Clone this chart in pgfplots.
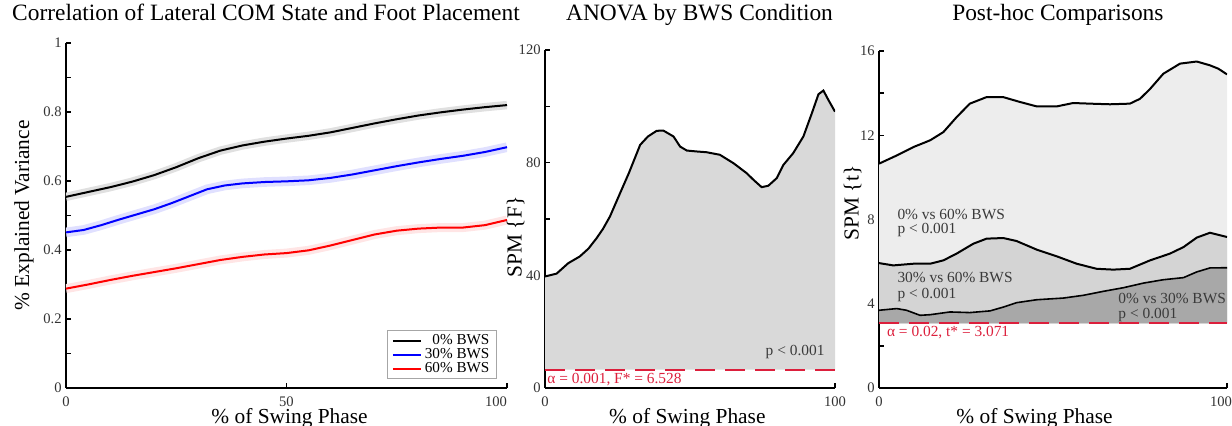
\documentclass[border=0pt]{standalone}
\usepackage{fontspec}
\setmainfont{Liberation Serif}
\usepackage{pgfplots}
\usepackage{pgfplotstable}
\pgfplotsset{compat=1.18}
\definecolor{redline}{HTML}{DC1F3C}
\definecolor{anno}{HTML}{3A3A3A}
\definecolor{ticklab}{HTML}{333333}

\pgfplotstableread{
x y
0 0.554
5 0.568
10 0.582
15 0.598
20 0.617
25 0.640
30 0.666
35 0.688
40 0.703
45 0.714
50 0.723
55 0.731
60 0.741
65 0.754
70 0.767
75 0.779
80 0.790
85 0.799
90 0.807
95 0.814
100 0.820
}\blacktab
\pgfplotstableread{
x y
0 0.451
4 0.458
8 0.472
12 0.488
16 0.503
20 0.518
24 0.536
28 0.556
32 0.576
36 0.587
40 0.593
45 0.597
50 0.599
55 0.602
60 0.609
65 0.619
70 0.631
75 0.643
80 0.654
85 0.664
90 0.673
95 0.684
100 0.698
}\bluetab
\pgfplotstableread{
x y
0 0.288
5 0.300
10 0.313
15 0.325
20 0.336
25 0.347
30 0.359
35 0.371
40 0.380
45 0.387
50 0.391
55 0.399
60 0.413
65 0.429
70 0.445
75 0.456
80 0.462
85 0.465
90 0.465
95 0.472
100 0.487
}\redtab

\pgfplotsset{
  common/.style={
    scale only axis,
    anchor=south west,
    axis x line*=bottom,
    axis y line*=left,
    axis line style={-, line width=0.8pt, black},
    tick align=inside,
    major tick length=2.5pt,
    minor tick length=2.5pt,
    tick style={line width=0.7pt, black},
    xmin=0, xmax=100,
    /pgf/number format/assume math mode=true,
    ticklabel style={font=\fontsize{7.3}{8}\selectfont, text=ticklab},
    xticklabel style={inner sep=0pt, anchor=north, yshift=-4.3pt},
    yticklabel style={inner sep=0pt, anchor=east, xshift=-2pt},
    label style={font=\fontsize{10.7}{12}\selectfont, inner sep=0pt},
    title style={font=\fontsize{11.7}{13}\selectfont, inner sep=0pt, anchor=base},
  }
}

\begin{document}
\begin{tikzpicture}
\useasboundingbox (0,0) rectangle (616pt,213pt);

% ---------------- Panel 1 ----------------
\begin{axis}[common,
  at={(33pt,19pt)}, width=220.5pt, height=172.5pt,
  ymin=0, ymax=1,
  xtick={0,50,100},
  xticklabels={0,50,\makebox[0pt][r]{100}},
  ytick={0,0.2,0.4,0.6,0.8,1},
  yticklabels={0,0.2,0.4,0.6,0.8,1},
  minor ytick={0.1,0.3,0.5,0.7,0.9},
  title={Correlation of Lateral COM State and Foot Placement},
  title style={at={(axis description cs:0.4535,1)}, yshift=5pt},
  xlabel={\% of Swing Phase},
  xlabel style={at={(axis description cs:0.507,0)}, anchor=north, yshift=-10.2pt},
  ylabel={\% Explained Variance},
  ylabel style={at={(axis description cs:-0.0726,0.5)}, anchor=south},
  legend style={at={(axis description cs:0.977,0.026)}, anchor=south east,
    draw=gray!70, line width=0.4pt, font=\fontsize{7.6}{8}\selectfont,
    inner xsep=2pt, inner ysep=1.5pt, row sep=0pt,
    nodes={inner ysep=0.2pt, inner xsep=1.5pt}},
  legend cell align=right,
  legend image code/.code={\draw[#1] (0pt,0pt) -- (14pt,0pt);},
]
\addplot[black!12, line width=4.2pt, forget plot] table[x=x, y=y] {\blacktab};
\addplot[blue!12, line width=4.8pt, forget plot] table[x=x, y=y] {\bluetab};
\addplot[red!10, line width=4.5pt, forget plot] table[x=x, y=y] {\redtab};
\addplot[black, line width=1pt] table[x=x, y=y] {\blacktab};
\addlegendentry{\phantom{0}0\% BWS}
\addplot[blue, line width=1pt] table[x=x, y=y] {\bluetab};
\addlegendentry{30\% BWS}
\addplot[red, line width=1pt] table[x=x, y=y] {\redtab};
\addlegendentry{60\% BWS}
\end{axis}

% ---------------- Panel 2 ----------------
\begin{axis}[common,
  at={(272.5pt,19pt)}, width=145pt, height=169pt,
  ymin=0, ymax=120,
  xtick={0,100},
  ytick={0,40,80,120},
  minor ytick={20,60,100},
  title={ANOVA by BWS Condition},
  title style={at={(axis description cs:0.533,1)}, yshift=8.5pt},
  xlabel={\% of Swing Phase},
  xlabel style={at={(axis description cs:0.491,0)}, anchor=north, yshift=-10.2pt},
  ylabel={SPM \{F\}},
  ylabel style={at={(axis description cs:-0.069,0.447)}, anchor=south},
]
\addplot[fill=gray!30, draw=none] coordinates {
(0,6.528) (0,39.6) (4,40.6) (8,44.3) (12,46.7) (15,49.5) (17.8,53.2) (20,56.5)
(22.4,60.9) (25.9,69.2) (29,76.5) (32.8,86.3) (35.5,89.3) (38.5,91.3) (40.8,91.4)
(44.3,89.3) (46.6,85.7) (48.9,84.3) (52,84.0) (55.7,83.7) (60.3,82.8) (65,79.8)
(69.5,76.3) (72,73.8) (74.7,71.3) (77,71.8) (79.9,74.5) (82.2,79.2) (85.6,83.4)
(89.1,89.3) (92,97.5) (94.3,104.3) (96,105.6) (97.7,102.3) (100,98.1) (100,6.528)};
\addplot[black, line width=1pt] coordinates {
(0,39.6) (4,40.6) (8,44.3) (12,46.7) (15,49.5) (17.8,53.2) (20,56.5)
(22.4,60.9) (25.9,69.2) (29,76.5) (32.8,86.3) (35.5,89.3) (38.5,91.3) (40.8,91.4)
(44.3,89.3) (46.6,85.7) (48.9,84.3) (52,84.0) (55.7,83.7) (60.3,82.8) (65,79.8)
(69.5,76.3) (72,73.8) (74.7,71.3) (77,71.8) (79.9,74.5) (82.2,79.2) (85.6,83.4)
(89.1,89.3) (92,97.5) (94.3,104.3) (96,105.6) (97.7,102.3) (100,98.1)};
\addplot[redline, line width=1pt, dash pattern=on 10pt off 5pt] coordinates {(0,6.528) (100,6.528)};
\node[anchor=base east, inner sep=0pt, text=anno, font=\fontsize{7.7}{8}\selectfont] at (axis cs:96.5,11.4) {p < 0.001};
\node[anchor=base west, inner sep=0pt, text=redline, font=\fontsize{7.7}{8}\selectfont] at (axis cs:0.7,1.6) {α = 0.001, F* = 6.528};
\end{axis}

% ---------------- Panel 3 ----------------
\begin{axis}[common,
  at={(439.5pt,19pt)}, width=174pt, height=168.5pt,
  ymin=0, ymax=16,
  xtick={0,100},
  xticklabels={0,\makebox[0pt][r]{100\hspace{-2.5pt}}},
  ytick={0,4,8,12,16},
  minor ytick={2,6,10,14},
  title={Post-hoc Comparisons},
  title style={at={(axis description cs:0.514,1)}, yshift=9pt},
  xlabel={\% of Swing Phase},
  xlabel style={at={(axis description cs:0.447,0)}, anchor=north, yshift=-10.2pt},
  ylabel={SPM \{t\}},
  ylabel style={at={(axis description cs:-0.049,0.549)}, anchor=south},
]
\addplot[fill=black!7, draw=none] coordinates {
(0,3.071) (0,10.65) (5.1,11.04) (9.9,11.44) (14.7,11.76) (18.5,12.15) (22.3,12.86) (26.1,13.5)
(30.9,13.81) (35.7,13.81) (40.5,13.58) (45.3,13.37) (51.1,13.37) (55.8,13.53) (60.6,13.5)
(66.4,13.47) (72.1,13.5) (75,13.73) (77.9,14.2) (81.7,14.92) (86.5,15.4) (91.3,15.5)
(95.1,15.32) (97.5,15.16) (100,14.89) (100,3.071)};
\addplot[fill=black!17, draw=none] coordinates {
(0,3.071) (0,5.93) (4.1,5.82) (9.9,5.9) (14.7,5.9) (18.5,6.06) (22.3,6.38) (27.1,6.85)
(30.9,7.09) (35.7,7.12) (39.5,6.98) (45.3,6.57) (51.1,6.25) (56.8,5.9) (62.5,5.66)
(67.3,5.62) (72.1,5.66) (77.9,6.06) (83.6,6.38) (87.5,6.69) (91.3,7.14) (95.1,7.37)
(98,7.25) (100,7.17) (100,3.071)};
\addplot[fill=black!34, draw=none] coordinates {
(0,3.071) (0,3.69) (5.1,3.77) (7.9,3.69) (11.8,3.45) (14.7,3.48) (20.4,3.61) (26.1,3.58)
(31.9,3.66) (35.7,3.84) (39.5,4.05) (45.3,4.19) (53,4.27) (58.7,4.40) (64.5,4.59)
(70.2,4.76) (76,4.98) (81.7,5.14) (87.5,5.24) (91.3,5.51) (95.1,5.7) (100,5.71) (100,3.071)};
\addplot[black, line width=1pt] coordinates {
(0,10.65) (5.1,11.04) (9.9,11.44) (14.7,11.76) (18.5,12.15) (22.3,12.86) (26.1,13.5)
(30.9,13.81) (35.7,13.81) (40.5,13.58) (45.3,13.37) (51.1,13.37) (55.8,13.53) (60.6,13.5)
(66.4,13.47) (72.1,13.5) (75,13.73) (77.9,14.2) (81.7,14.92) (86.5,15.4) (91.3,15.5)
(95.1,15.32) (97.5,15.16) (100,14.89)};
\addplot[black, line width=1pt] coordinates {
(0,5.93) (4.1,5.82) (9.9,5.9) (14.7,5.9) (18.5,6.06) (22.3,6.38) (27.1,6.85)
(30.9,7.09) (35.7,7.12) (39.5,6.98) (45.3,6.57) (51.1,6.25) (56.8,5.9) (62.5,5.66)
(67.3,5.62) (72.1,5.66) (77.9,6.06) (83.6,6.38) (87.5,6.69) (91.3,7.14) (95.1,7.37)
(98,7.25) (100,7.17)};
\addplot[black, line width=0.8pt] coordinates {
(0,3.69) (5.1,3.77) (7.9,3.69) (11.8,3.45) (14.7,3.48) (20.4,3.61) (26.1,3.58)
(31.9,3.66) (35.7,3.84) (39.5,4.05) (45.3,4.19) (53,4.27) (58.7,4.40) (64.5,4.59)
(70.2,4.76) (76,4.98) (81.7,5.14) (87.5,5.24) (91.3,5.51) (95.1,5.7) (100,5.71)};
\addplot[redline, line width=1pt, dash pattern=on 10pt off 5pt] coordinates {(0,3.071) (100,3.071)};
\node[anchor=base west, inner sep=0pt, text=anno, font=\fontsize{7.7}{8}\selectfont] at (axis cs:5.2,8.02) {0\% vs 60\% BWS};
\node[anchor=base west, inner sep=0pt, text=anno, font=\fontsize{7.7}{8}\selectfont] at (axis cs:5.2,7.35) {p < 0.001};
\node[anchor=base west, inner sep=0pt, text=anno, font=\fontsize{7.7}{8}\selectfont] at (axis cs:5.2,5.0) {30\% vs 60\% BWS};
\node[anchor=base west, inner sep=0pt, text=anno, font=\fontsize{7.7}{8}\selectfont] at (axis cs:5.2,4.26) {p < 0.001};
\node[anchor=base west, inner sep=0pt, text=anno, font=\fontsize{7.7}{8}\selectfont] at (axis cs:68.7,4.02) {0\% vs 30\% BWS};
\node[anchor=base west, inner sep=0pt, text=anno, font=\fontsize{7.7}{8}\selectfont] at (axis cs:68.7,3.31) {p < 0.001};
\node[anchor=base west, inner sep=0pt, text=redline, font=\fontsize{7.7}{8}\selectfont] at (axis cs:2.2,2.44) {α = 0.02, t* = 3.071};
\end{axis}
\end{tikzpicture}
\end{document}
